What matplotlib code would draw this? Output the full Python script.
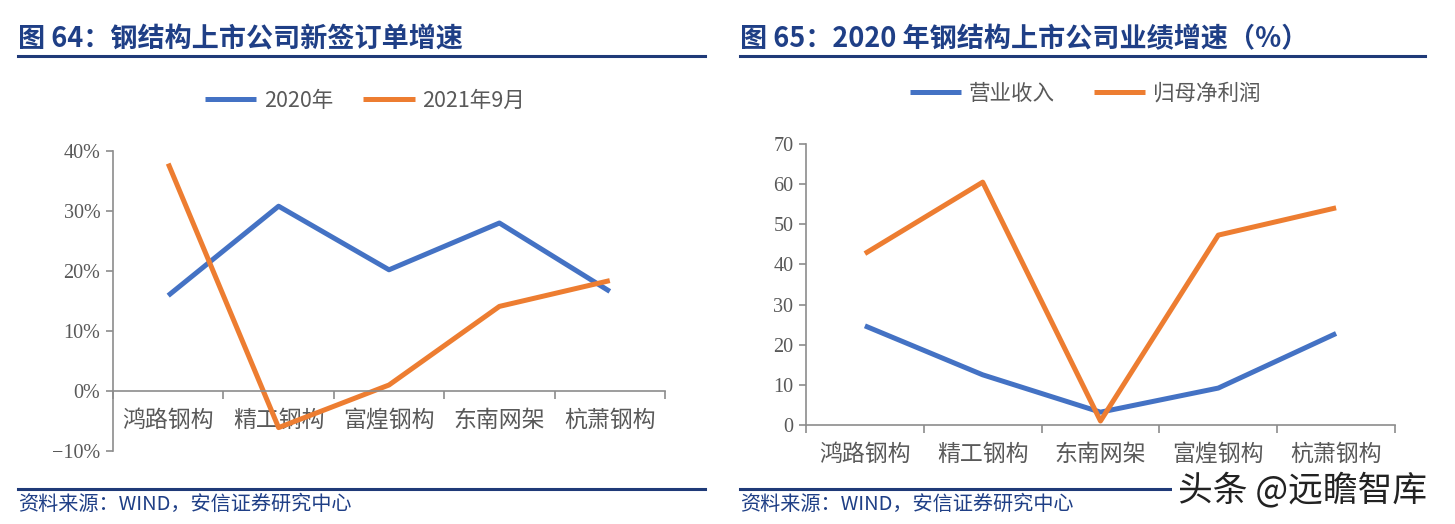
import matplotlib
matplotlib.use("Agg")
import matplotlib.pyplot as plt
from matplotlib.ticker import FixedLocator, FuncFormatter

plt.rcParams['font.family'] = ['Noto Sans CJK SC', 'DejaVu Sans']

# ---- data ----
cats_left = ['鸿路钢构', '精工钢构', '富煌钢构', '东南网架', '杭萧钢构']
orders_2020 = [0.159, 0.308, 0.202, 0.280, 0.166]
orders_2021q3 = [0.379, -0.061, 0.010, 0.141, 0.184]

cats_right = ['鸿路钢构', '精工钢构', '东南网架', '富煌钢构', '杭萧钢构']
revenue_growth = [24.7, 12.5, 3.2, 9.2, 22.8]
profit_growth = [42.7, 60.5, 1.0, 47.3, 54.1]

W, H = 1455, 524
BLUE = '#4472C4'
ORANGE = '#ED7D31'
NAVY = '#1F3F86'
GRAY_TXT = '#595959'
AXIS = '#8C8C8C'
SERIF = ['Liberation Serif', 'DejaVu Serif']


def px_axes(fig, x0, y0, x1, y1):
    return fig.add_axes([x0 / W, 1 - y1 / H, (x1 - x0) / W, (y1 - y0) / H])


def style_axes(ax, n, ymin, ymax, yticks, fmt):
    ax.set_xlim(-0.5, n - 0.5)
    ax.set_ylim(ymin, ymax)
    for s in ['top', 'right']:
        ax.spines[s].set_visible(False)
    ax.spines['bottom'].set_position(('data', 0))
    for s in ['left', 'bottom']:
        ax.spines[s].set_color(AXIS)
        ax.spines[s].set_linewidth(1.2)
    ax.yaxis.set_major_locator(FixedLocator(yticks))
    ax.yaxis.set_major_formatter(FuncFormatter(fmt))
    ax.tick_params(axis='y', direction='out', length=5, width=1.2, color=AXIS,
                   labelcolor=GRAY_TXT, labelsize=14.5, pad=4)
    for lab in ax.get_yticklabels():
        lab.set_family(SERIF)
    ax.set_xticks(range(n))
    ax.set_xticks([i - 0.5 for i in range(n + 1)], minor=True)
    ax.tick_params(axis='x', which='major', length=0, labelcolor=GRAY_TXT,
                   labelsize=16.5)
    ax.tick_params(axis='x', which='minor', direction='out', length=6, width=1.2,
                   color=AXIS)
    ax.patch.set_alpha(0)


fig = plt.figure(figsize=(W / 100, H / 100), dpi=100)

# ---- headers / footers ----
fig.text(18 / W, 1 - 39 / H, '图 64：钢结构上市公司新签订单增速', fontsize=19.5,
         fontweight='bold', color=NAVY, va='center')
fig.text(740 / W, 1 - 39 / H, '图 65：2020 年钢结构上市公司业绩增速（%）', fontsize=19.5,
         fontweight='bold', color=NAVY, va='center')
for x0, x1 in [(18, 705), (740, 1425)]:
    fig.add_artist(plt.Line2D([x0 / W, x1 / W], [1 - 56 / H] * 2, color='#1F3A78', lw=2.2))
    fig.add_artist(plt.Line2D([x0 / W, x1 / W], [1 - 489 / H] * 2, color='#1F3A78', lw=2.2))
fig.text(18 / W, 1 - 504 / H, '资料来源：WIND，安信证券研究中心', fontsize=14.5,
         color=NAVY, va='center', style='italic')
fig.text(740 / W, 1 - 504 / H, '资料来源：WIND，安信证券研究中心', fontsize=14.5,
         color=NAVY, va='center', style='italic')
fig.text(1178 / W, 1 - 490 / H, '头条 @远瞻智库', fontsize=25, color='#222222',
         va='center', bbox=dict(facecolor='white', edgecolor='none', pad=4))

# ---- left chart ----
ax1 = px_axes(fig, 113, 151, 665, 451)
x = range(len(cats_left))
ax1.plot(x, orders_2020, color=BLUE, lw=3.6, label='2020年', solid_capstyle='butt')
ax1.plot(x, orders_2021q3, color=ORANGE, lw=3.6, label='2021年9月', solid_capstyle='butt')
style_axes(ax1, len(cats_left), -0.1, 0.4, [-0.1, 0, 0.1, 0.2, 0.3, 0.4],
           lambda v, p: f'{v * 100:.0f}%'.replace('-', '−'))
ax1.set_xticklabels(cats_left)
ax1.tick_params(axis='x', which='major', pad=13)
ax1.legend(loc='center', bbox_to_anchor=(365 / W, 1 - 101 / H),
           bbox_transform=fig.transFigure, ncol=2, frameon=False, fontsize=15.5,
           handlelength=2.4, handletextpad=0.35, columnspacing=1.4,
           labelcolor=GRAY_TXT)

# ---- right chart ----
ax2 = px_axes(fig, 806, 144, 1395, 425)
x = range(len(cats_right))
ax2.plot(x, revenue_growth, color=BLUE, lw=3.6, label='营业收入', solid_capstyle='butt')
ax2.plot(x, profit_growth, color=ORANGE, lw=3.6, label='归母净利润', solid_capstyle='butt')
style_axes(ax2, len(cats_right), 0, 70, list(range(0, 71, 10)),
           lambda v, p: f'{v:.0f}')
ax2.set_xticklabels(cats_right)
ax2.tick_params(axis='x', which='major', pad=13)
ax2.legend(loc='center', bbox_to_anchor=(1085 / W, 1 - 94 / H),
           bbox_transform=fig.transFigure, ncol=2, frameon=False, fontsize=15.5,
           handlelength=2.4, handletextpad=0.35, columnspacing=1.8,
           labelcolor=GRAY_TXT)

fig.savefig('out.png', dpi=100)
